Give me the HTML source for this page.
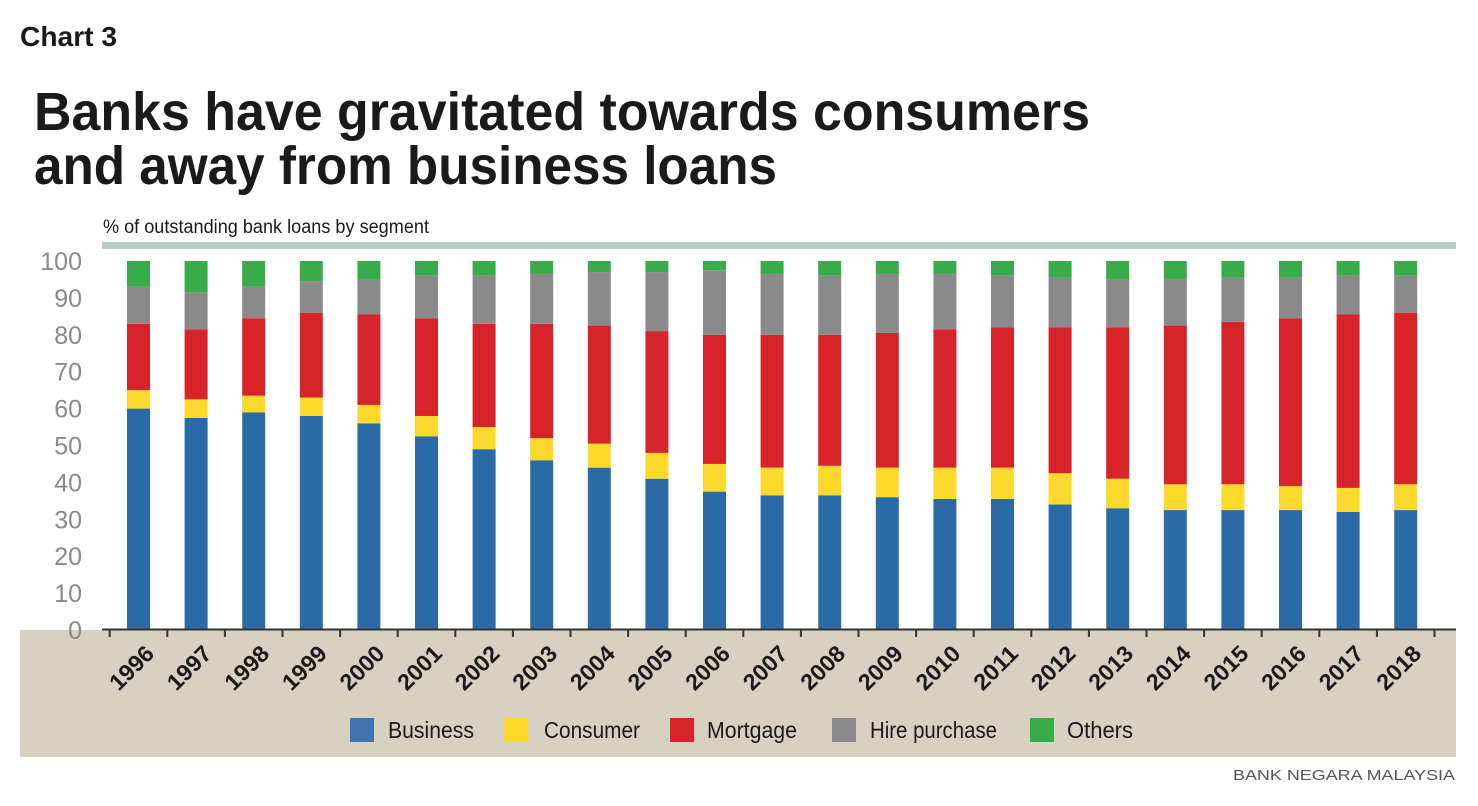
<!DOCTYPE html>
<html><head><meta charset="utf-8"><style>
html,body{margin:0;padding:0;background:#fff;}
svg{display:block;font-family:"Liberation Sans",sans-serif;}
</style></head><body>
<svg id="s" width="1478" height="806" viewBox="0 0 1478 806" xmlns="http://www.w3.org/2000/svg">
<rect x="0" y="0" width="1478" height="806" fill="#fff"/>
<text x="20" y="46" font-size="28" font-weight="bold" fill="#1a1a1a" textLength="97" lengthAdjust="spacingAndGlyphs">Chart 3</text>
<text x="34" y="130" font-size="54" font-weight="bold" fill="#1a1a1a" textLength="1056" lengthAdjust="spacingAndGlyphs">Banks have gravitated towards consumers</text>
<text x="34" y="184" font-size="54" font-weight="bold" fill="#1a1a1a" textLength="743" lengthAdjust="spacingAndGlyphs">and away from business loans</text>
<text x="103" y="233" font-size="19" fill="#1a1a1a" textLength="326" lengthAdjust="spacingAndGlyphs">% of outstanding bank loans by segment</text>
<rect x="102" y="242" width="1354" height="7" fill="#bccaca"/>
<rect x="20" y="630" width="1436" height="127" fill="#d8d0c0"/>
<g id="bars"></g>
<line x1="102" y1="629.5" x2="1456" y2="629.5" stroke="#333" stroke-width="2"/>
<g id="ticks"></g>
<g font-size="23" fill="#1a1a1a">
<rect x="350" y="718" width="24" height="24" fill="#3f74ad"/><text x="388" y="738" textLength="86" lengthAdjust="spacingAndGlyphs">Business</text>
<rect x="504" y="718" width="24" height="24" fill="#fcd92a"/><text x="544" y="738" textLength="96" lengthAdjust="spacingAndGlyphs">Consumer</text>
<rect x="670" y="718" width="24" height="24" fill="#d7242b"/><text x="707" y="738" textLength="90" lengthAdjust="spacingAndGlyphs">Mortgage</text>
<rect x="832" y="718" width="24" height="24" fill="#8a8a8a"/><text x="870" y="738" textLength="127" lengthAdjust="spacingAndGlyphs">Hire purchase</text>
<rect x="1030" y="718" width="24" height="24" fill="#3aab4a"/><text x="1067" y="738" textLength="66" lengthAdjust="spacingAndGlyphs">Others</text>
</g>
<text x="1455" y="780" font-size="15" fill="#555" text-anchor="end" textLength="222" lengthAdjust="spacingAndGlyphs">BANK NEGARA MALAYSIA</text>
</svg>
<script>
var d=[[60,65,83,93],[57.5,62.5,81.5,91.5],[59,63.5,84.5,93],[58,63,86,94.5],[56,61,85.5,95],[52.5,58,84.5,96],[49,55,83,96],[46,52,83,96.5],[44,50.5,82.5,97],[41,48,81,97],[37.5,45,80,97.5],[36.5,44,80,96.5],[36.5,44.5,80,96],[36,44,80.5,96.5],[35.5,44,81.5,96.5],[35.5,44,82,96],[34,42.5,82,95.5],[33,41,82,95],[32.5,39.5,82.5,95],[32.5,39.5,83.5,95.5],[32.5,39,84.5,95.5],[32,38.5,85.5,96],[32.5,39.5,86,96]];
var col=["#2a6aa6","#fcd92a","#d7242b","#8a8a8a","#3aab4a"];
var s="";
function Y(v){return 630-v*3.69;}
for(var i=0;i<23;i++){var cx=138.5+i*57.6,x=cx-11.5,prev=0,vals=d[i].concat([100]);
for(var k=0;k<5;k++){var y0=Y(prev),y1=Y(vals[k]);s+='<rect x="'+x+'" y="'+y1+'" width="23" height="'+(y0-y1)+'" fill="'+col[k]+'"/>';prev=vals[k];}}
document.getElementById("bars").innerHTML=s;
var t="";
for(var i=0;i<=23;i++){var tx=109.7+i*57.6;t+='<line x1="'+tx+'" y1="629" x2="'+tx+'" y2="637" stroke="#333" stroke-width="2"/>';}
for(var i=0;i<23;i++){var cx=138.5+i*57.6;t+='<text transform="translate('+(cx+17)+',655) rotate(-45)" text-anchor="end" font-size="23" font-weight="bold" fill="#1a1a1a" textLength="52" lengthAdjust="spacingAndGlyphs">'+(1996+i)+'</text>';}
for(var v=0;v<=100;v+=10){t+='<text x="82" y="'+(Y(v)+9)+'" text-anchor="end" font-size="25" fill="#8a8a8a">'+v+'</text>';}
document.getElementById("ticks").innerHTML=t;
</script>
</body></html>
